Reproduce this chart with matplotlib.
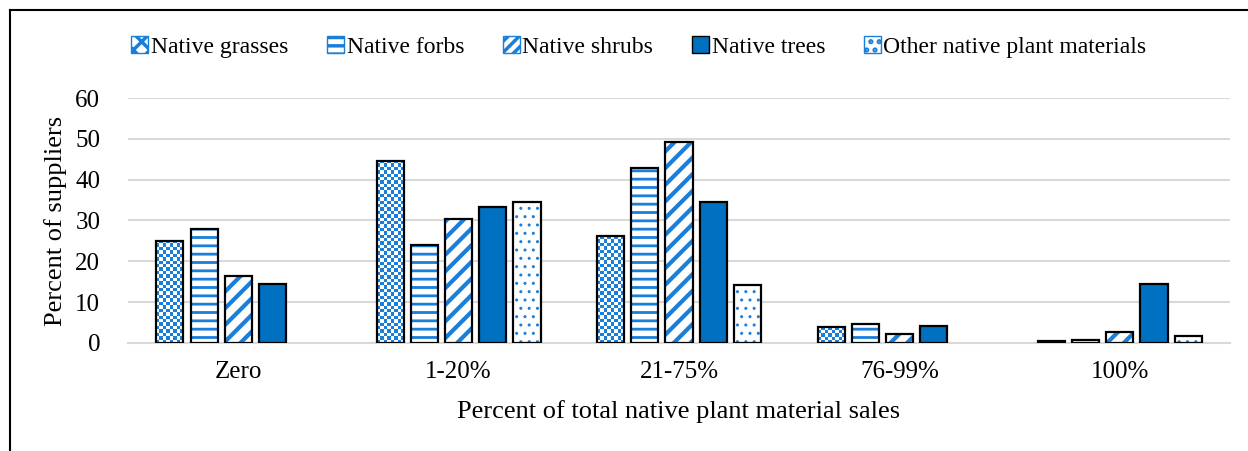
import numpy as np
import matplotlib
matplotlib.use("Agg")
import matplotlib.pyplot as plt
from matplotlib.colors import ListedColormap
from matplotlib.patches import Patch
from matplotlib.lines import Line2D

plt.rcParams['font.family'] = ['Liberation Serif', 'DejaVu Serif']
plt.rcParams['hatch.linewidth'] = 2.5

categories = ['Zero', '1-20%', '21-75%', '76-99%', '100%']
series = ['Native grasses', 'Native forbs', 'Native shrubs', 'Native trees',
          'Other native plant materials']
grasses = [25.0, 44.6, 26.1, 3.8, 0.6]
forbs = [27.9, 24.0, 42.9, 4.7, 0.8]
shrubs = [16.4, 30.3, 49.3, 2.2, 2.7]
trees = [14.5, 33.2, 34.6, 4.2, 14.5]
other = [0.0, 34.6, 14.1, 0.0, 1.8]
values = [grasses, forbs, shrubs, trees, other]

blue = '#0070C0'
hatch_blue = '#1A7FDB'
hatches = [None, '--', '//', None, '..']
hatch_lw = [2.0, 2.0, 3.0, 2.0, 1.0]

fig = plt.figure(figsize=(12.48, 4.51), dpi=100)
ax = fig.add_axes([0.1026, 0.2395, 0.8830, 0.5432])

x = np.arange(len(categories))
step = 0.155
width = 0.123
ax.set_xlim(-0.5, 4.5)
ax.set_ylim(0, 60)

# pixel sizes of one data unit, for the checker pattern
pos = ax.get_position()
px_x = pos.width * 1248 / 5.0
px_y = pos.height * 451 / 60.0
checker_cmap = ListedColormap(['white', hatch_blue])

for i, vals in enumerate(values):
    vals = np.array(vals)
    keep = vals > 0
    xs = (x + (i - 2) * step)[keep]
    vals = vals[keep]
    if i == 3:
        ax.bar(xs, vals, width, color=blue, edgecolor='black', linewidth=1.6, zorder=3)
        continue
    if i == 0:
        bars = ax.bar(xs, vals, width, color='none', edgecolor='black',
                      linewidth=1.6, zorder=3)
        for b in bars:
            nx = max(1, int(round(b.get_width() * px_x / 3.4)))
            ny = max(1, int(round(b.get_height() * px_y / 3.4)))
            img = (np.add.outer(np.arange(ny), np.arange(nx)) % 2).astype(float)
            ax.imshow(img, extent=(b.get_x(), b.get_x() + b.get_width(), 0, b.get_height()),
                      cmap=checker_cmap, interpolation='nearest', aspect='auto',
                      zorder=2.5, vmin=0, vmax=1)
        continue
    under = ax.bar(xs, vals, width, color='white', edgecolor=hatch_blue, hatch=hatches[i],
                   linewidth=0, zorder=2)
    for p in under:
        if hasattr(p, 'set_hatch_linewidth'):
            p.set_hatch_linewidth(hatch_lw[i])
    ax.bar(xs, vals, width, color='none', edgecolor='black', linewidth=1.6, zorder=3)

ax.set_xlim(-0.5, 4.5)
ax.set_ylim(0, 60)
ax.set_xticks(x)
ax.set_xticklabels(categories, fontsize=18)
ax.set_yticks(range(0, 61, 10))
ax.tick_params(axis='y', labelsize=18, length=0, pad=20)
ax.tick_params(axis='x', length=0, pad=13)
ax.yaxis.grid(True, color='#D9D9D9', linewidth=1.5)
ax.set_axisbelow(True)
for s in ['top', 'right', 'left']:
    ax.spines[s].set_visible(False)
ax.spines['bottom'].set_color('#D9D9D9')
ax.spines['bottom'].set_linewidth(1.5)

ax.set_ylabel('Percent of suppliers', fontsize=19, labelpad=6)
ax.set_xlabel('Percent of total native plant material sales', fontsize=19, labelpad=12)

handles = [
    Patch(facecolor='white', edgecolor=hatch_blue, hatch='xx', label=series[0]),
    Patch(facecolor='white', edgecolor=hatch_blue, hatch='--', label=series[1]),
    Patch(facecolor='white', edgecolor=hatch_blue, hatch='///', label=series[2]),
    Patch(facecolor=blue, edgecolor='black', label=series[3]),
    Patch(facecolor='white', edgecolor=hatch_blue, hatch='..', label=series[4]),
]
for h in handles:
    if hasattr(h, 'set_hatch_linewidth'):
        h.set_hatch_linewidth(1.2)
leg = fig.legend(handles=handles, loc='center', bbox_to_anchor=(0.512, 0.896), ncol=5,
                 frameon=False, fontsize=17, handlelength=0.7, handleheight=0.7,
                 handletextpad=0.12, columnspacing=1.65)

# chart frame (left and top edges)
fig.add_artist(Line2D([0.008, 0.008], [0.0, 0.978], color='black', linewidth=1.5,
                      transform=fig.transFigure))
fig.add_artist(Line2D([0.008, 1.0], [0.978, 0.978], color='black', linewidth=1.5,
                      transform=fig.transFigure))

fig.savefig('out.png', dpi=100)
